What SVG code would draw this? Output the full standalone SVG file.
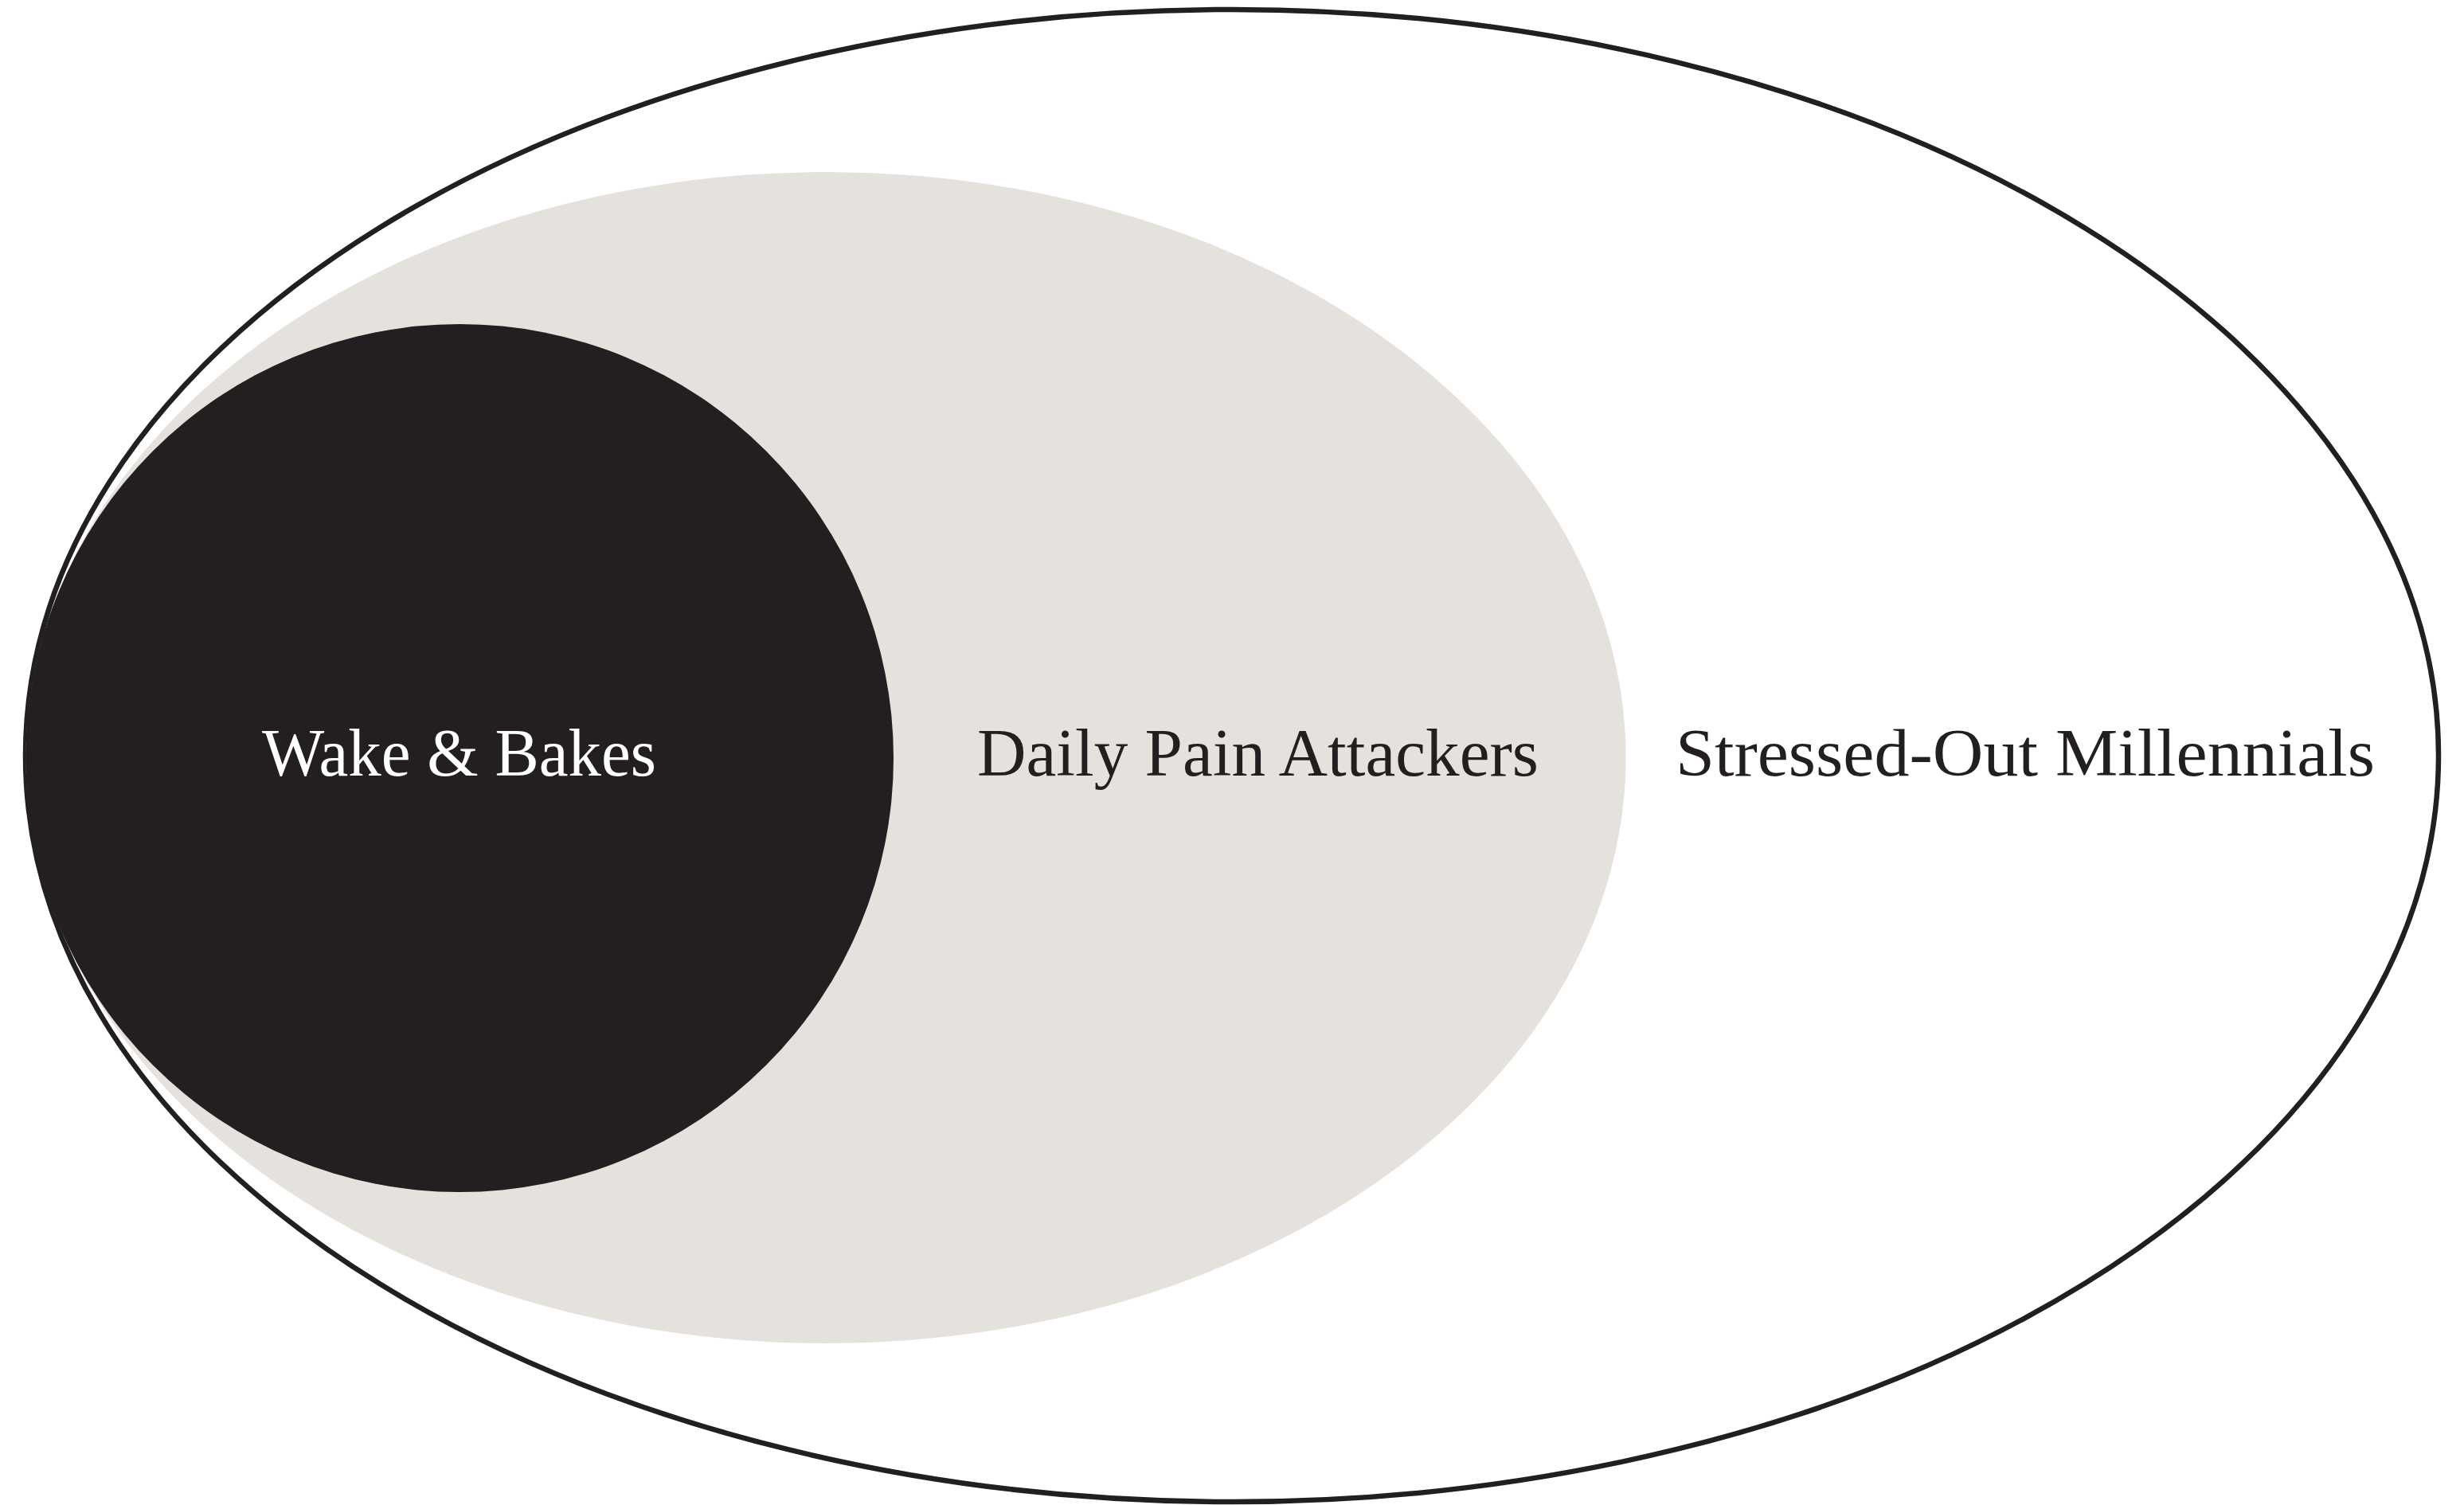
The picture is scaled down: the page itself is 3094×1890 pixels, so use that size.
<svg xmlns="http://www.w3.org/2000/svg" width="3094" height="1890" viewBox="0 0 3094 1890">
<style>
.lbl{font-family:"Liberation Serif","DejaVu Serif",serif;font-size:85px;}
.dark{fill:#231f20;}
.light{fill:#ffffff;}
</style>
<rect x="0" y="0" width="3094" height="1890" fill="#ffffff"/>
<g id="stressed-out-millennials">
<ellipse cx="1547" cy="949" rx="1515" ry="937" fill="#ffffff" stroke="#231f20" stroke-width="6.5"/>
<text class="lbl dark" x="2104" y="974" textLength="878" lengthAdjust="spacingAndGlyphs">Stressed-Out Millennials</text>
</g>
<g id="daily-pain-attackers">
<ellipse cx="1037" cy="951.5" rx="1004.5" ry="735.5" fill="#e5e1dc"/>
<text class="lbl dark" x="1227" y="974" textLength="705" lengthAdjust="spacingAndGlyphs">Daily Pain Attackers</text>
</g>
<g id="wake-and-bakes">
<circle cx="577" cy="952" r="545" fill="#231f20"/>
<text class="lbl light" x="329" y="974" textLength="495" lengthAdjust="spacingAndGlyphs">Wake &amp; Bakes</text>
</g>
<g id="connectors"/>
</svg>
